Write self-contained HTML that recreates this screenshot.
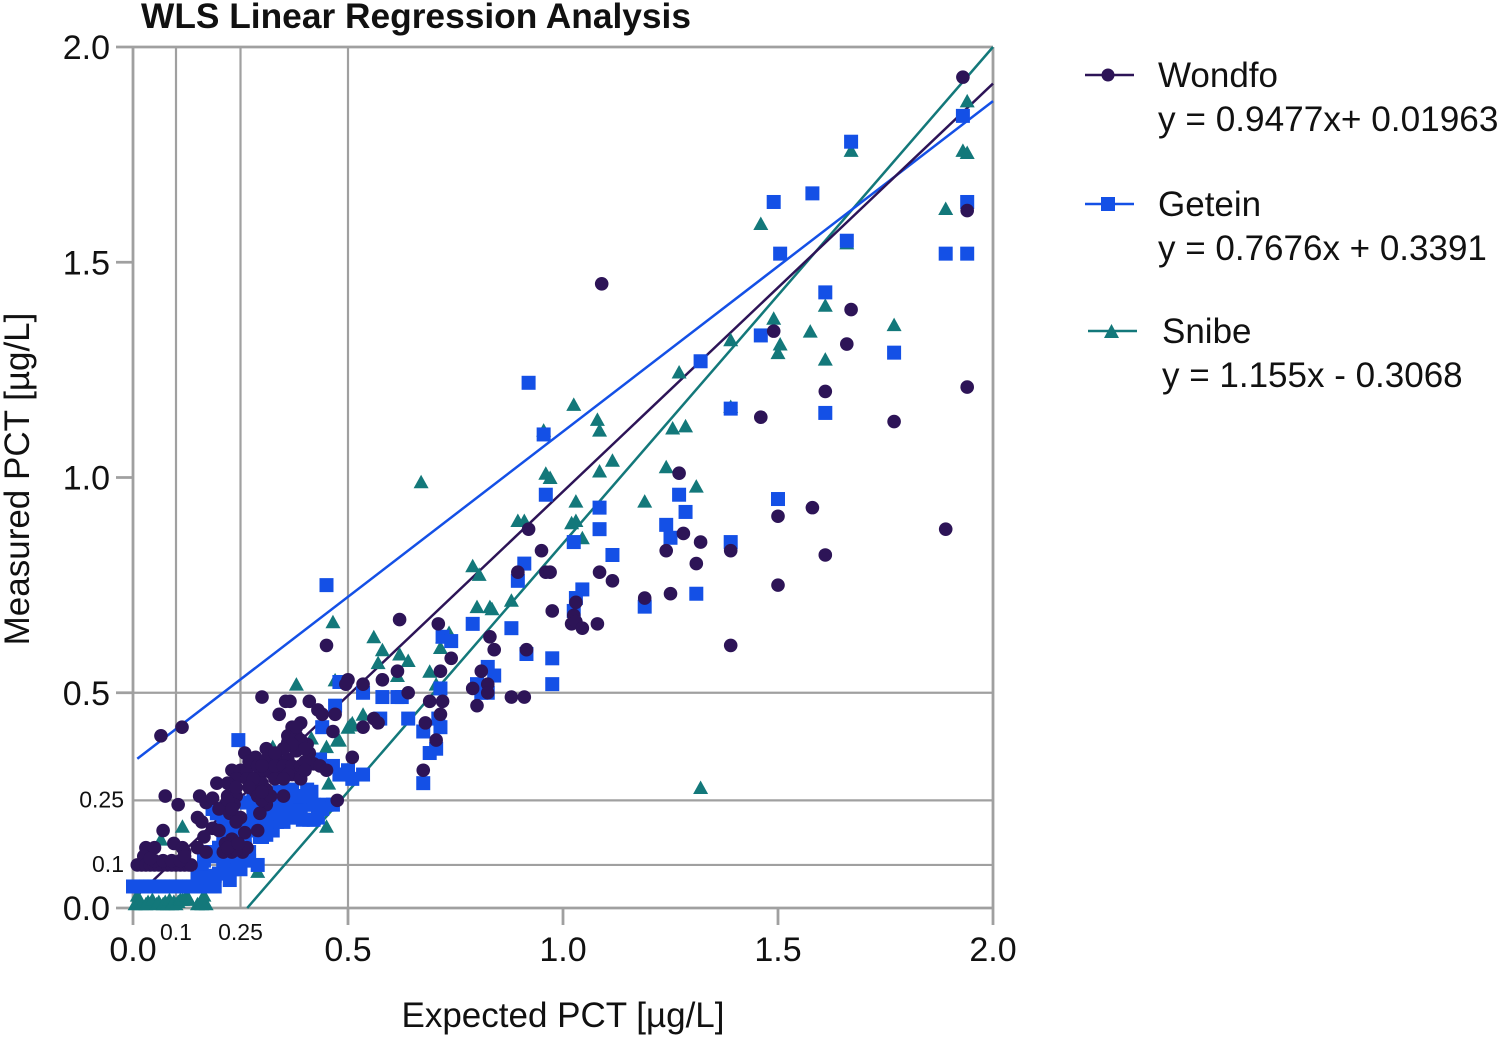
<!DOCTYPE html>
<html lang="en">
<head>
<meta charset="utf-8">
<title>WLS Linear Regression Analysis</title>
<style>
html,body{margin:0;padding:0;background:#fff;}
#page{width:1500px;height:1038px;overflow:hidden;position:relative;}
svg{display:block;}
text{font-family:"Liberation Sans",Arial,sans-serif;fill:#111;}
</style>
</head>
<body>
<div id="page">
<svg id="chart" width="1500" height="1038" viewBox="0 0 1500 1038">
  <text x="141" y="28" font-size="35.500" font-weight="bold" textLength="550" lengthAdjust="spacingAndGlyphs">WLS Linear Regression Analysis</text>
  <g id="grid"></g>
  <g id="fits"></g>
  <g id="marks"></g>
  <g id="ticks"></g>
  <text x="563" y="1027" font-size="35" text-anchor="middle">Expected PCT [µg/L]</text>
  <text transform="translate(29,479) rotate(-90)" font-size="35" text-anchor="middle">Measured PCT [µg/L]</text>

  <g>
    <line x1="1085" y1="75" x2="1134" y2="75" stroke="#2d1457" stroke-width="2.500"></line>
    <circle cx="1108" cy="75" r="6.500" fill="#2d1457"></circle>
    <text x="1158" y="87" font-size="35">Wondfo</text>
    <text x="1158" y="131" font-size="35.200">y = 0.9477x+ 0.01963</text>
  </g>
  <g>
    <line x1="1085" y1="204" x2="1134" y2="204" stroke="#1450e6" stroke-width="2.500"></line>
    <rect x="1101" y="197" width="14" height="14" fill="#1450e6"></rect>
    <text x="1158" y="216" font-size="35">Getein</text>
    <text x="1158" y="260" font-size="35">y = 0.7676x + 0.3391</text>
  </g>
  <g>
    <line x1="1088" y1="331" x2="1137" y2="331" stroke="#13787a" stroke-width="2.500"></line>
    <polygon points="1104,338 1119,338 1111.500,324" fill="#13787a"></polygon>
    <text x="1162" y="343" font-size="35">Snibe</text>
    <text x="1162" y="387" font-size="35">y = 1.155x - 0.3068</text>
  </g>
</svg>
</div>
<script>
const majorTicks = [0, 0.5, 1.0, 1.5, 2.0];
const majorTickLabels = ["0.0", "0.5", "1.0", "1.5", "2.0"];
const cutoffValues = [0.1, 0.25, 0.5];
const cutoffLabels = ["0.1", "0.25"];

const seriesNames = ["snibe", "getein", "wondfo"];
const snibeFit = [1.155, -0.3068];
const geteinFit = [0.7676, 0.3391];
const wondfoFit = [0.9477, 0.01963];
const snibeFitRange = [0.2656, 2.0];
const geteinFitRange = [0.01, 2.0];
const wondfoFitRange = [0.01, 2.0];

const snibePoints = [
[1.94,1.875],[1.93,1.76],[1.94,1.755],[1.67,1.76],[1.89,1.625],[1.46,1.59],[1.66,1.545],[1.61,1.40],[1.49,1.37],[1.575,1.34],[1.77,1.355],[1.505,1.31],[1.50,1.29],[1.61,1.275],[1.39,1.32],[1.27,1.245],[1.39,1.165],[1.025,1.17],[0.955,1.11],[1.08,1.135],[1.085,1.11],[1.255,1.115],[1.285,1.12],[0.67,0.99],[0.96,1.01],[0.97,1.0],[1.115,1.04],[1.085,1.015],[1.24,1.025],[1.31,0.98],[1.19,0.945],[1.03,0.945],[0.895,0.90],[0.91,0.90],[1.03,0.90],[1.02,0.895],[1.045,0.86],[0.79,0.795],[0.805,0.775],[0.88,0.715],[0.83,0.70],[0.80,0.70],[0.835,0.695],[0.465,0.665],[0.56,0.63],[0.58,0.60],[0.57,0.57],[0.62,0.59],[0.64,0.575],[0.615,0.54],[0.69,0.55],[0.715,0.605],[0.735,0.64],[0.72,0.63],[0.705,0.52],[1.32,0.28],[0.47,0.53],[0.38,0.52],[0.535,0.45],[0.51,0.43],[0.50,0.42],[0.48,0.39],[0.505,0.425],[0.475,0.39],[0.45,0.375],[0.415,0.395],[0.325,0.375],[0.31,0.335],[0.455,0.29],[0.45,0.19],[0.115,0.19],[0.065,0.16],[0.29,0.085],[0.18,0.06],[0.12,0.05],
[0.01,0.03],[0.005,0.01],[0.015,0.015],[0.02,0.01],[0.03,0.01],[0.035,0.015],[0.045,0.02],[0.055,0.01],[0.06,0.015],[0.07,0.01],[0.075,0.015],[0.08,0.01],[0.085,0.02],[0.09,0.01],[0.095,0.015],[0.10,0.01],[0.105,0.015],[0.11,0.02],[0.115,0.02],[0.125,0.03],[0.13,0.02],[0.15,0.01],[0.16,0.01],[0.165,0.03],[0.17,0.01]
];
const geteinPoints = [
[1.67,1.78],[1.93,1.84],[1.49,1.64],[1.58,1.66],[1.94,1.64],[1.89,1.52],[1.94,1.52],[1.505,1.52],[1.66,1.55],[1.61,1.43],[1.32,1.27],[1.46,1.33],[1.77,1.29],[0.92,1.22],[1.39,1.16],[1.61,1.15],[0.955,1.10],[0.96,0.96],[1.27,0.96],[1.085,0.93],[1.285,0.92],[1.5,0.95],[1.24,0.89],[1.25,0.86],[1.085,0.88],[1.39,0.85],[1.025,0.85],[1.115,0.82],[0.91,0.80],[0.895,0.76],[1.045,0.74],[1.03,0.72],[1.025,0.69],[1.31,0.73],[0.45,0.75],[1.19,0.70],
[0.79,0.66],[0.88,0.65],[0.72,0.63],[0.74,0.62],[0.825,0.56],[0.84,0.54],[0.80,0.52],[0.81,0.50],[0.825,0.50],[0.915,0.59],[0.975,0.58],[0.975,0.52],[0.715,0.51],[0.535,0.50],[0.58,0.49],[0.615,0.49],[0.625,0.49],[0.575,0.44],[0.64,0.44],[0.71,0.44],[0.715,0.42],[0.675,0.41],[0.69,0.36],[0.705,0.37],[0.675,0.29],[0.50,0.32],[0.535,0.31],[0.51,0.30],[0.485,0.31],[0.48,0.525],
[0.245,0.39],[0.47,0.47],[0.44,0.42],[0.435,0.345],[0.465,0.33],[0.48,0.31],[0.34,0.27],[0.37,0.275],[0.405,0.275],[0.415,0.27],[0.36,0.245],[0.39,0.23],[0.41,0.205],[0.435,0.235],[0.45,0.24],[0.30,0.165],[0.315,0.18],[0.335,0.205],[0.29,0.10],[0.265,0.245],[0.28,0.265],
[0.295,0.165],[0.325,0.18],[0.335,0.20],[0.365,0.21],[0.365,0.235],[0.395,0.205],[0.42,0.205],[0.44,0.23],[0.465,0.24],[0.395,0.26],[0.37,0.25],[0.335,0.265],[0.27,0.245],[0.275,0.20],[0.215,0.19],[0.195,0.22],[0.185,0.23],
[0.0,0.05],[0.01,0.05],[0.02,0.05],[0.03,0.05],[0.04,0.05],[0.05,0.05],[0.06,0.05],[0.07,0.05],[0.08,0.05],[0.09,0.05],[0.10,0.05],[0.11,0.05],[0.12,0.05],[0.13,0.05],[0.14,0.05],[0.15,0.05],[0.16,0.05],[0.17,0.05],[0.18,0.05],[0.19,0.05],
[0.16,0.09],[0.17,0.07],[0.18,0.07],[0.15,0.07],[0.19,0.075],[0.20,0.08],[0.21,0.09],[0.22,0.08],[0.23,0.09],[0.24,0.10],[0.25,0.11],[0.26,0.12],[0.225,0.065],[0.25,0.09],[0.21,0.11],[0.22,0.12],[0.23,0.13],[0.24,0.14],[0.25,0.13],[0.17,0.13],[0.165,0.11],[0.195,0.12],[0.20,0.14],[0.21,0.16],[0.22,0.18],[0.23,0.20],[0.24,0.18],[0.26,0.16],
[0.33,0.22],[0.35,0.22],[0.33,0.24],[0.35,0.20],[0.38,0.21],[0.40,0.24],[0.41,0.25],[0.39,0.26],[0.42,0.24],[0.43,0.21],[0.34,0.23],[0.31,0.20],[0.32,0.22],[0.36,0.27],[0.38,0.26],[0.28,0.22],[0.29,0.20],[0.30,0.19],[0.31,0.17],[0.28,0.24],[0.285,0.18],[0.21,0.20],[0.23,0.21],[0.25,0.19],[0.26,0.18],[0.21,0.14],[0.25,0.15],[0.26,0.14],[0.27,0.13],[0.25,0.16],[0.27,0.11]
];
const wondfoPoints = [
[1.93,1.93],[1.09,1.45],[1.67,1.39],[1.49,1.34],[1.66,1.31],[1.94,1.21],[1.61,1.20],[1.46,1.14],[1.77,1.13],[1.94,1.62],[1.27,1.01],[1.89,0.88],[0.92,0.88],[1.58,0.93],[1.50,0.91],[0.95,0.83],[1.61,0.82],[1.32,0.85],[1.28,0.87],[1.24,0.83],[1.39,0.83],[1.31,0.80],[1.085,0.78],[1.115,0.76],[1.50,0.75],[1.19,0.72],[1.25,0.73],[1.39,0.61],
[0.895,0.78],[0.96,0.78],[0.97,0.78],[0.975,0.69],[1.03,0.71],[1.025,0.68],[1.02,0.66],[1.03,0.665],[1.045,0.65],[1.08,0.66],[0.45,0.61],[0.62,0.67],[0.71,0.66],[0.83,0.63],[0.84,0.60],[0.915,0.60],[0.74,0.58],[0.715,0.55],[0.81,0.55],[0.615,0.55],[0.58,0.53],[0.535,0.52],[0.50,0.53],[0.495,0.52],[0.64,0.50],[0.825,0.52],[0.79,0.51],[0.825,0.50],[0.88,0.49],[0.91,0.49],[0.80,0.47],[0.69,0.48],[0.72,0.48],[0.715,0.45],[0.68,0.43],[0.56,0.44],[0.57,0.43],[0.535,0.42],[0.51,0.35],[0.705,0.39],[0.675,0.32],
[0.065,0.40],[0.114,0.42],[0.30,0.49],[0.355,0.48],[0.365,0.48],[0.41,0.48],[0.43,0.46],[0.44,0.45],[0.47,0.45],[0.34,0.45],[0.465,0.41],[0.39,0.43],[0.37,0.42],[0.36,0.40],[0.36,0.385],[0.26,0.36],[0.31,0.37],[0.285,0.35],[0.31,0.345],[0.335,0.345],[0.36,0.345],[0.38,0.365],[0.405,0.38],[0.41,0.36],[0.42,0.335],[0.435,0.33],[0.45,0.32],[0.23,0.32],[0.25,0.32],[0.265,0.32],[0.24,0.30],[0.265,0.30],[0.295,0.31],[0.32,0.315],[0.34,0.315],[0.37,0.31],[0.39,0.30],[0.195,0.29],[0.22,0.29],[0.30,0.29],[0.31,0.275],[0.285,0.27],[0.075,0.26],[0.105,0.24],[0.155,0.26],[0.17,0.245],[0.185,0.255],[0.22,0.26],[0.24,0.26],[0.215,0.24],[0.235,0.24],[0.20,0.23],[0.225,0.22],[0.25,0.21],[0.24,0.20],[0.35,0.26],[0.31,0.24],[0.295,0.22],[0.15,0.21],[0.16,0.20],[0.185,0.185],[0.20,0.18],[0.26,0.175],[0.29,0.18],[0.07,0.18],[0.095,0.15],[0.115,0.14],[0.12,0.13],[0.03,0.14],[0.05,0.14],[0.025,0.12],[0.165,0.165],[0.15,0.14],[0.17,0.13],[0.23,0.16],[0.215,0.15],[0.21,0.13],[0.23,0.13],[0.255,0.13],[0.265,0.14],[0.475,0.25],
[0.01,0.10],[0.02,0.10],[0.03,0.10],[0.04,0.10],[0.05,0.10],[0.06,0.10],[0.07,0.10],[0.08,0.10],[0.09,0.10],[0.10,0.10],[0.11,0.10],[0.12,0.10],[0.13,0.10],[0.135,0.10],[0.05,0.11],[0.07,0.11],[0.09,0.11],[0.11,0.11],[0.12,0.12],[0.04,0.115],
[0.27,0.34],[0.29,0.33],[0.30,0.33],[0.33,0.33],[0.35,0.33],[0.37,0.33],[0.39,0.33],[0.40,0.34],[0.40,0.32],[0.36,0.31],[0.28,0.30],[0.33,0.30],[0.35,0.30],[0.27,0.28],[0.38,0.40],[0.39,0.39],[0.38,0.42],[0.40,0.37],[0.37,0.38],[0.35,0.37],[0.33,0.36],[0.24,0.135],[0.22,0.14],[0.245,0.15],[0.29,0.26],[0.30,0.25],[0.32,0.26],[0.30,0.27],[0.24,0.28],[0.22,0.25],[0.23,0.23]
];

const seriesPoints = [snibePoints, geteinPoints, wondfoPoints];
const seriesFits = [snibeFit, geteinFit, wondfoFit];
const seriesRanges = [snibeFitRange, geteinFitRange, wondfoFitRange];
const seriesColors = ["#13787a", "#1450e6", "#2d1457"];

const SVGNS = "http://www.w3.org/2000/svg";
function xScale(v) { return 133 + v * 430; }
function yScale(v) { return 908 - v * 430.5; }
function make(tag, attrs, parent) {
  const el = document.createElementNS(SVGNS, tag);
  for (const k in attrs) el.setAttribute(k, attrs[k]);
  parent.appendChild(el);
  return el;
}

const grid = document.getElementById("grid");
const fits = document.getElementById("fits");
const marks = document.getElementById("marks");
const ticks = document.getElementById("ticks");
const gridColor = "#a0a0a0";

cutoffValues.forEach(function (v) {
  const vl = make("line", {x1: xScale(v), x2: xScale(v), y1: yScale(2), y2: yScale(0), stroke: gridColor, "stroke-width": 2.2}, grid);
  
  
  const hl = make("line", {x1: xScale(0), x2: xScale(2), y1: yScale(v), y2: yScale(v), stroke: gridColor, "stroke-width": 2.2}, grid);
  
  
});

// plot frame: top and bottom reach out as y ticks, left and right reach down as x ticks
majorTicks.forEach(function (v) {
  const onEdgeY = v === 0 || v === 2;
  const yt = make("line", {x1: xScale(0) - 17, x2: onEdgeY ? xScale(2) : xScale(0), y1: yScale(v), y2: yScale(v), stroke: gridColor, "stroke-width": 2.8}, grid);
  
  
  const onEdgeX = v === 0 || v === 2;
  const xt = make("line", {x1: xScale(v), x2: xScale(v), y1: onEdgeX ? yScale(2) : yScale(0), y2: yScale(0) + 17, stroke: gridColor, "stroke-width": 2.8}, grid);
  
  
});

majorTicks.forEach(function (v, i) {
  const xl = make("text", {x: xScale(v), y: 961, "font-size": 34, "text-anchor": "middle"}, ticks);
  xl.textContent = majorTickLabels[i];
  
  
  const yl = make("text", {x: 110, y: yScale(v) + 12, "font-size": 34, "text-anchor": "end"}, ticks);
  yl.textContent = majorTickLabels[i];
  
  
});

cutoffLabels.forEach(function (label, i) {
  const v = cutoffValues[i];
  const xl = make("text", {x: xScale(v), y: 940, "font-size": 23, "text-anchor": "middle"}, ticks);
  xl.textContent = label;
  
  
  const yl = make("text", {x: 124, y: yScale(v) + 7, "font-size": 23, "text-anchor": "end"}, ticks);
  yl.textContent = label;
  
  
});

seriesNames.forEach(function (name, s) {
  const fit = seriesFits[s];
  const range = seriesRanges[s];
  const ln = make("line", {
    x1: xScale(range[0]), y1: yScale(fit[0] * range[0] + fit[1]),
    x2: xScale(range[1]), y2: yScale(Math.min(2, fit[0] * range[1] + fit[1])),
    stroke: seriesColors[s], "stroke-width": 2.5
  }, fits);
  
  
});

seriesNames.forEach(function (name, s) {
  const group = make("g", {fill: seriesColors[s]}, marks);
  
  
  seriesPoints[s].forEach(function (p) {
    const cx = xScale(p[0]);
    const cy = yScale(p[1]);
    let el;
    if (name === "wondfo") {
      el = make("circle", {cx: cx, cy: cy, r: 6.8}, group);
    } else if (name === "getein") {
      el = make("rect", {x: cx - 7, y: cy - 7, width: 14, height: 14}, group);
    } else {
      el = make("polygon", {points: (cx - 7.5) + "," + (cy + 6.5) + " " + (cx + 7.5) + "," + (cy + 6.5) + " " + cx + "," + (cy - 7)}, group);
    }
    
    
  });
});
</script>
</body>
</html>
